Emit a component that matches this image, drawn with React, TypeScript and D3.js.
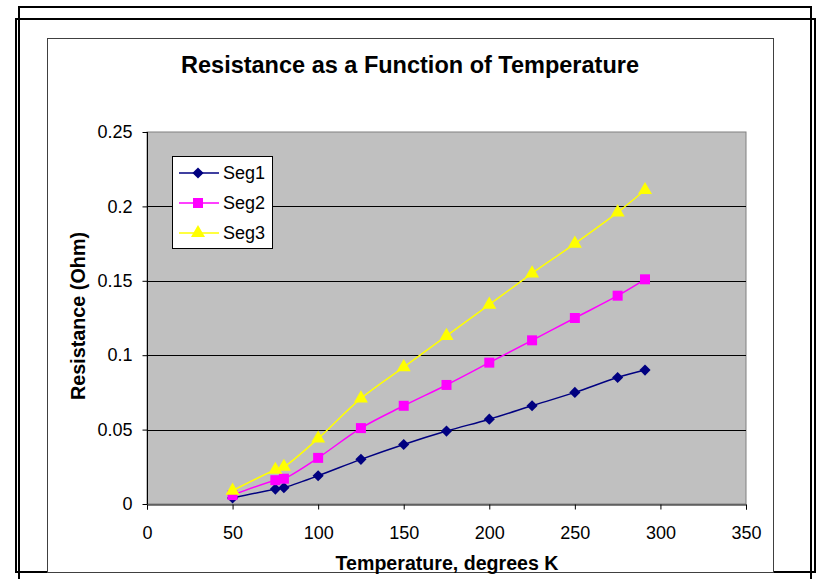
import { useEffect, useRef } from "react";
import * as d3 from "d3";

// temperatures in degrees K
const temps = [50, 75, 80, 100, 125, 150, 175, 200, 225, 250, 275, 291];
const seg1 = [0.004, 0.010, 0.011, 0.019, 0.030, 0.040, 0.049, 0.057, 0.066, 0.075, 0.085, 0.090];
const seg2 = [0.006, 0.016, 0.017, 0.031, 0.051, 0.066, 0.080, 0.095, 0.110, 0.125, 0.140, 0.151];
const seg3 = [0.009, 0.023, 0.025, 0.044, 0.071, 0.092, 0.113, 0.134, 0.155, 0.175, 0.196, 0.211];
const seriesNames = ["Seg1", "Seg2", "Seg3"];
const xTicks = [0, 50, 100, 150, 200, 250, 300, 350];
const yTicks = [0, 0.05, 0.1, 0.15, 0.2, 0.25];

const colors = ["#000080", "#FF00FF", "#FFFF00"];
const shapes = [d3.symbolSquare, d3.symbolSquare, d3.symbolTriangle];
const sizes = [62, 100, 85];
const rotations = [45, 0, 0];

export default function App() {
  const svgRef = useRef<SVGSVGElement | null>(null);

  useEffect(() => {
    if (!svgRef.current) return;
    const svg = d3.select(svgRef.current);
    svg.selectAll("*").remove();
    const font = "Liberation Sans, Arial, sans-serif";

    // outer frames
    svg.append("rect").attr("x", 19).attr("y", 7).attr("width", 792).attr("height", 600)
      .attr("fill", "none").attr("stroke", "#000").attr("stroke-width", 2);
    svg.append("rect").attr("x", 16).attr("y", 19).attr("width", 799).attr("height", 553)
      .attr("fill", "#fff").attr("stroke", "#000").attr("stroke-width", 2);
    svg.append("line").attr("x1", 19).attr("x2", 19).attr("y1", 19).attr("y2", 579)
      .attr("stroke", "#000").attr("stroke-width", 2);
    svg.append("line").attr("x1", 811).attr("x2", 811).attr("y1", 19).attr("y2", 579)
      .attr("stroke", "#000").attr("stroke-width", 2);

    // chart area
    svg.append("rect").attr("x", 47.5).attr("y", 38.5).attr("width", 726).attr("height", 534)
      .attr("fill", "#fff").attr("stroke", "#404040").attr("stroke-width", 1);

    const left = 147, right = 746, top = 132, bottom = 504;
    const x = d3.scaleLinear().domain([0, 350]).range([left, right]);
    const y = d3.scaleLinear().domain([0, 0.25]).range([bottom, top]);

    svg.append("rect").attr("x", left).attr("y", top).attr("width", right - left).attr("height", bottom - top)
      .attr("fill", "#C0C0C0").attr("stroke", "#808080").attr("stroke-width", 1);

    // gridlines
    svg.append("g").selectAll("line").data(yTicks.filter(t => t > 0 && t < 0.25)).enter().append("line")
      .attr("x1", left).attr("x2", right)
      .attr("y1", d => Math.round(y(d)) + 0.5).attr("y2", d => Math.round(y(d)) + 0.5)
      .attr("stroke", "#000").attr("stroke-width", 1);

    // axes
    const yAxis = svg.append("g").attr("transform", `translate(${left + 0.5},0)`)
      .call(d3.axisLeft(y).tickValues(yTicks).tickSize(5).tickPadding(10).tickFormat(d => `${d}`));
    const xAxis = svg.append("g").attr("transform", `translate(0,${bottom + 0.5})`)
      .call(d3.axisBottom(x).tickValues(xTicks).tickSize(5).tickPadding(17).tickFormat(d => `${d}`));
    [yAxis, xAxis].forEach(a => {
      a.select(".domain").attr("stroke", "#000");
      a.selectAll(".tick line").attr("stroke", "#000");
      a.selectAll("text").attr("font-family", font).attr("font-size", 18).attr("fill", "#000");
    });
    yAxis.select(".domain").attr("d", `M0,${top}V${bottom}`);

    // series
    const allSeries = [seg1, seg2, seg3];
    const line = d3.line<number>().x((_, i) => x(temps[i])).y(d => y(d)).curve(d3.curveCatmullRom);
    allSeries.forEach((vals, si) => {
      svg.append("path").datum(vals).attr("d", line).attr("fill", "none")
        .attr("stroke", colors[si]).attr("stroke-width", 1.5);
    });
    allSeries.forEach((vals, si) => {
      svg.append("g").selectAll("path").data(vals).enter().append("path")
        .attr("transform", (d, i) => `translate(${x(temps[i])},${y(d)}) rotate(${rotations[si]})`)
        .attr("d", d3.symbol().type(shapes[si]).size(sizes[si]))
        .attr("fill", colors[si]);
    });

    // legend
    const lg = svg.append("g");
    lg.append("rect").attr("x", 172.5).attr("y", 156.5).attr("width", 100).attr("height", 92)
      .attr("fill", "#fff").attr("stroke", "#000").attr("stroke-width", 1);
    seriesNames.forEach((name, i) => {
      const ly = 173 + i * 30;
      lg.append("line").attr("x1", 179).attr("x2", 219).attr("y1", ly).attr("y2", ly)
        .attr("stroke", colors[i]).attr("stroke-width", 1.5);
      lg.append("path").attr("transform", `translate(198,${ly}) rotate(${rotations[i]})`)
        .attr("d", d3.symbol().type(shapes[i]).size(sizes[i])).attr("fill", colors[i]);
      lg.append("text").attr("x", 223).attr("y", ly + 6).text(name)
        .attr("font-family", font).attr("font-size", 18).attr("fill", "#000");
    });

    // titles
    svg.append("text").attr("x", 410).attr("y", 73).attr("text-anchor", "middle")
      .attr("font-family", font).attr("font-weight", "bold").attr("font-size", 23.5)
      .text("Resistance as a Function of Temperature");
    svg.append("text").attr("transform", `translate(85,316) rotate(-90)`).attr("text-anchor", "middle")
      .attr("font-family", font).attr("font-weight", "bold").attr("font-size", 19.8)
      .text("Resistance (Ohm)");
    svg.append("text").attr("x", 447).attr("y", 570).attr("text-anchor", "middle")
      .attr("font-family", font).attr("font-weight", "bold").attr("font-size", 19.6)
      .text("Temperature, degrees K");
  }, []);

  return (
    <svg ref={svgRef} width={818} height={579}
      style={{ position: "absolute", left: 0, top: 0, background: "#fff" }} />
  );
}
